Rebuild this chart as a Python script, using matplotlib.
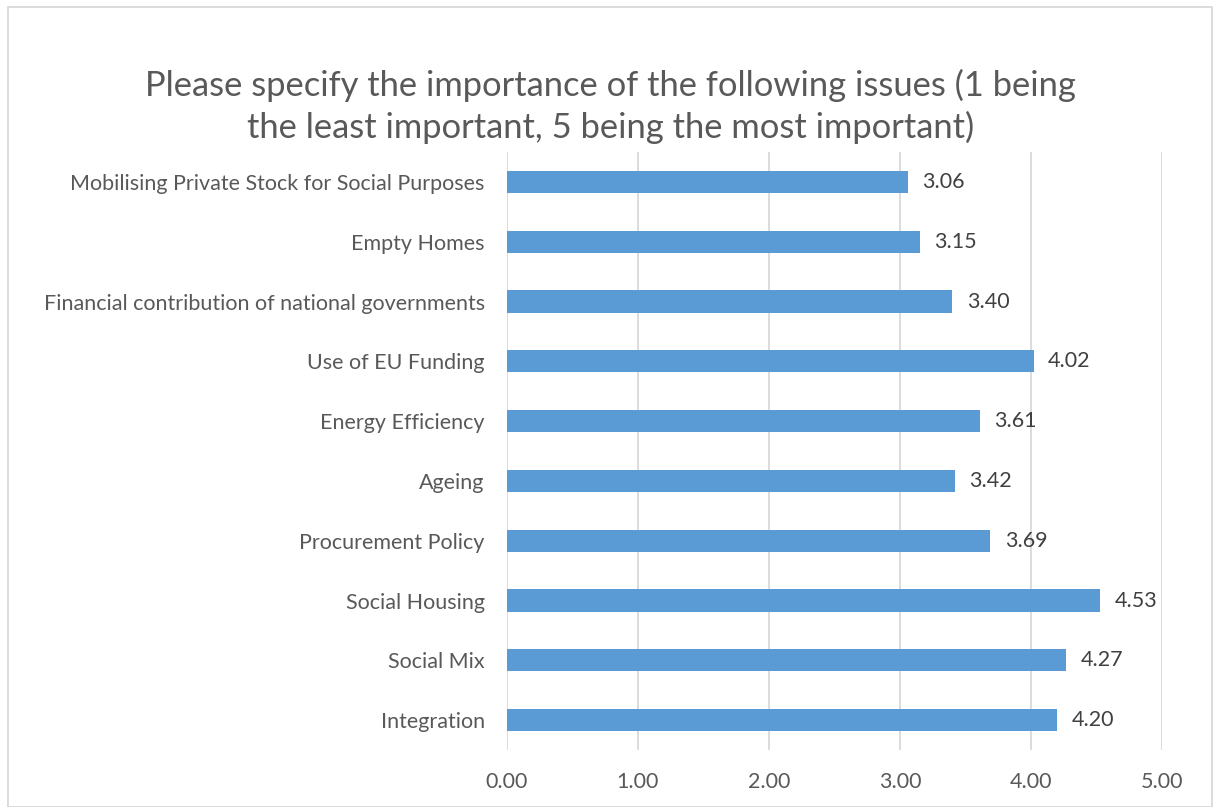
import matplotlib.pyplot as plt
from matplotlib.patches import Rectangle

plt.rcParams['font.family'] = ['Lato', 'DejaVu Sans']

issues = ['Integration', 'Social Mix', 'Social Housing', 'Procurement Policy',
          'Ageing', 'Energy Efficiency', 'Use of EU Funding',
          'Financial contribution of national governments', 'Empty Homes',
          'Mobilising Private Stock for Social Purposes']
scores = [4.20, 4.27, 4.53, 3.69, 3.42, 3.61, 4.02, 3.40, 3.15, 3.06]
xticks = [0, 1, 2, 3, 4, 5]

fig = plt.figure(figsize=(12.19, 8.07), dpi=100)
ax = fig.add_axes([0.4159, 0.0706, 0.9532 - 0.4159, 0.8116 - 0.0706])

ypos = range(len(issues))
ax.barh(ypos, scores, height=0.37, color='#5B9BD5', zorder=3)
for y, v in zip(ypos, scores):
    ax.text(v + 0.11, y, f'{v:.2f}', va='center', ha='left',
            fontsize=15.5, color='#404040')

ax.set_xlim(0, 5)
ax.set_ylim(-0.5, len(issues) - 0.5)
ax.set_xticks(xticks)
ax.set_xticklabels([f'{t:.2f}' for t in xticks])
ax.set_yticks(list(ypos))
ax.set_yticklabels(issues)
ax.tick_params(axis='both', length=0, labelsize=15.5, colors='#595959')
ax.tick_params(axis='y', pad=16)
ax.tick_params(axis='x', pad=16)
ax.grid(axis='x', color='#D9D9D9', linewidth=1.3, zorder=0)
for s in ax.spines.values():
    s.set_visible(False)

fig.text(0.501, 0.868,
         'Please specify the importance of the following issues (1 being\n'
         'the least important, 5 being the most important)',
         ha='center', va='center', fontsize=24.8, color='#595959',
         linespacing=1.33)

# thin frame around the whole chart
fig.patches.append(Rectangle((8 / 1219, 0), (1212 - 8) / 1219, 1 - 7 / 807,
                             transform=fig.transFigure, fill=False,
                             edgecolor='#D9D9D9', linewidth=1.3))

fig.savefig('out.png', dpi=100)
